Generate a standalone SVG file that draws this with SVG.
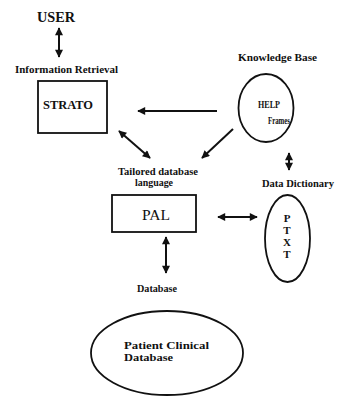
<svg xmlns="http://www.w3.org/2000/svg" width="339" height="396" viewBox="0 0 339 396">
<style>
.t{font-family:"Liberation Serif","Times New Roman",serif;font-weight:bold;fill:#111}
.n{font-family:"Liberation Serif","Times New Roman",serif;fill:#111}
.shape{fill:none;stroke:#111;stroke-width:1.8}
.c{fill:none;stroke:#111;stroke-width:2}
</style>
<defs>
<marker id="ah" viewBox="0 0 10 10" refX="9" refY="5" markerWidth="4.5" markerHeight="4" orient="auto-start-reverse" markerUnits="strokeWidth">
<path d="M0,0 L10,5 L0,10 z" fill="#111"/>
</marker>
</defs>
<rect width="339" height="396" fill="#fff"/>
<g id="user"><text class="t" x="37" y="22" font-size="14" textLength="38" lengthAdjust="spacingAndGlyphs">USER</text></g>
<g id="strato">
<text class="t" x="15" y="73" font-size="10" textLength="103" lengthAdjust="spacingAndGlyphs">Information Retrieval</text>
<rect class="shape" x="38" y="81" width="69" height="52" stroke-width="2"/>
<text class="t" x="43" y="109" font-size="12" textLength="50" lengthAdjust="spacingAndGlyphs">STRATO</text>
</g>
<g id="help">
<text class="t" x="238" y="61" font-size="10" textLength="79" lengthAdjust="spacingAndGlyphs">Knowledge Base</text>
<ellipse class="shape" cx="266" cy="108" rx="27.5" ry="34"/>
<text class="t" x="258" y="108" font-size="10.5" textLength="22" lengthAdjust="spacingAndGlyphs">HELP</text>
<text class="t" x="268" y="124" font-size="10" textLength="22" lengthAdjust="spacingAndGlyphs">Frames</text>
</g>
<g id="datadict"><text class="t" x="262" y="187" font-size="10" textLength="72" lengthAdjust="spacingAndGlyphs">Data  Dictionary</text></g>
<g id="pal">
<text class="t" x="118" y="175" font-size="10" textLength="80" lengthAdjust="spacingAndGlyphs">Tailored database</text>
<text class="t" x="135" y="186" font-size="10" textLength="38" lengthAdjust="spacingAndGlyphs">language</text>
<rect class="shape" x="112" y="195" width="84" height="37" stroke-width="1.6"/>
<text class="n" x="142" y="220" font-size="15" textLength="28" lengthAdjust="spacingAndGlyphs">PAL</text>
</g>
<g id="ptxt">
<ellipse class="shape" cx="287.5" cy="238.5" rx="22.5" ry="43.5"/>
<text class="t" x="287" y="222" font-size="11" text-anchor="middle">P</text>
<text class="t" x="287" y="234" font-size="11" text-anchor="middle">T</text>
<text class="t" x="287" y="246" font-size="11" text-anchor="middle">X</text>
<text class="t" x="287" y="258" font-size="11" text-anchor="middle">T</text>
</g>
<g id="database">
<text class="t" x="137" y="292" font-size="10" textLength="40" lengthAdjust="spacingAndGlyphs">Database</text>
<ellipse class="shape" cx="167" cy="353" rx="76" ry="42"/>
<text class="t" x="124" y="349" font-size="11" textLength="85" lengthAdjust="spacingAndGlyphs">Patient  Clinical</text>
<text class="t" x="124" y="361" font-size="11" textLength="49" lengthAdjust="spacingAndGlyphs">Database</text>
</g>
<g id="connectors">
<line class="c" x1="59" y1="28" x2="59" y2="57" marker-start="url(#ah)" marker-end="url(#ah)"/>
<line class="c" x1="217" y1="111" x2="138" y2="111" marker-end="url(#ah)"/>
<line class="c" x1="119" y1="131" x2="150" y2="158" marker-start="url(#ah)" marker-end="url(#ah)"/>
<line class="c" x1="233" y1="129" x2="202" y2="158" marker-end="url(#ah)"/>
<line class="c" x1="289" y1="153" x2="289" y2="170" marker-start="url(#ah)" marker-end="url(#ah)"/>
<line class="c" x1="218" y1="217" x2="257" y2="217" marker-start="url(#ah)" marker-end="url(#ah)"/>
<line class="c" x1="166" y1="237" x2="166" y2="273" marker-start="url(#ah)" marker-end="url(#ah)"/>
</g>
</svg>
